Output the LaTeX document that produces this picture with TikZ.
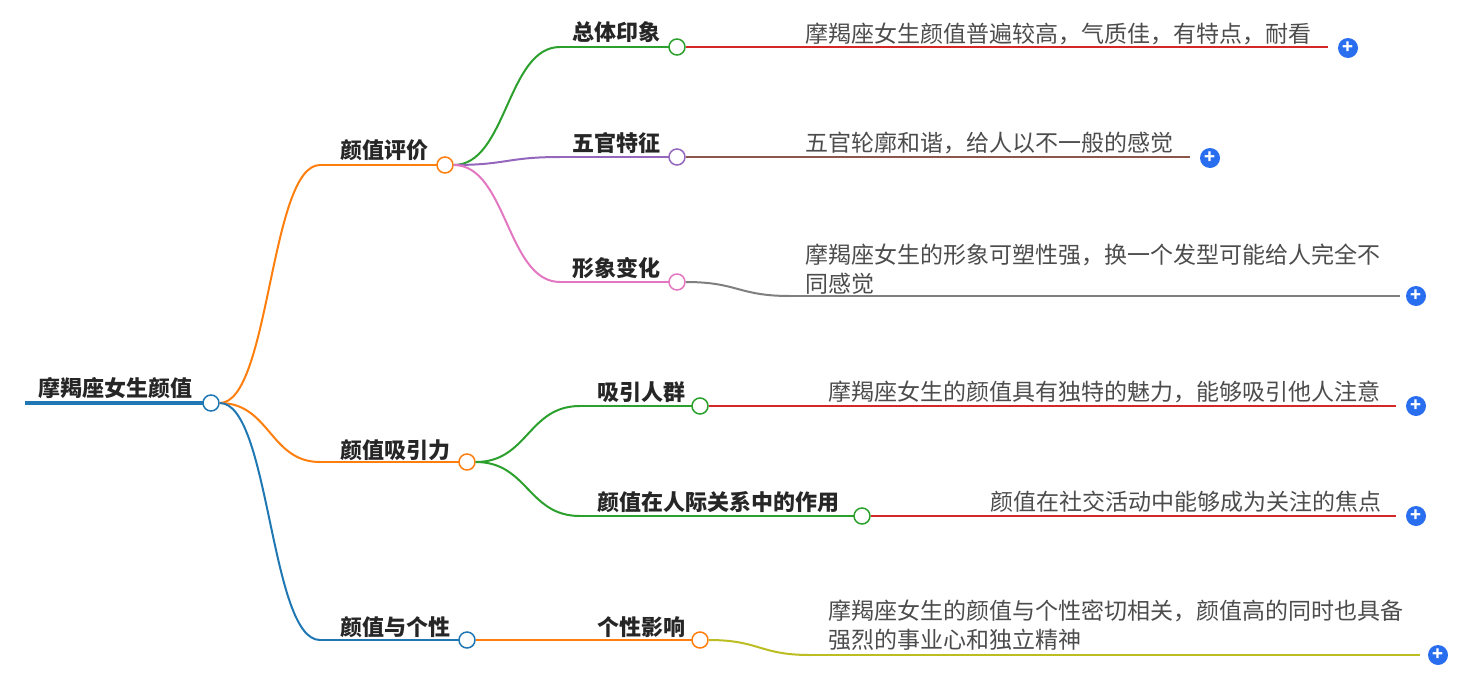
\documentclass[tikz,border=0pt]{standalone}
\usepackage{fontspec}
\setmainfont{Noto Sans CJK SC}
\usetikzlibrary{calc}
\begin{document}
\begin{tikzpicture}[x=1pt,y=-1pt,
  lbl/.style={anchor=west,inner sep=0,font=\fontsize{22}{26}\selectfont\bfseries,text=black!85},
  leaf/.style={anchor=west,inner sep=0,font=\fontsize{23}{29}\selectfont,text=black!70,align=left},
  dot/.style={circle,draw,line width=1.5pt,fill=white,minimum size=16pt,inner sep=0},
  plus/.style={circle,fill=cplus,minimum size=20pt,inner sep=0,text=white,font=\bfseries\fontsize{18}{18}\selectfont},
  ln/.style={line width=2pt}]
\definecolor{cor}{HTML}{FF7F0E}\definecolor{cbl}{HTML}{1F77B4}\definecolor{cgr}{HTML}{2CA02C}
\definecolor{cpu}{HTML}{9467BD}\definecolor{cpi}{HTML}{E377C2}\definecolor{cre}{HTML}{D62728}
\definecolor{cbr}{HTML}{8C564B}\definecolor{cgy}{HTML}{7F7F7F}\definecolor{col}{HTML}{BCBD22}
\definecolor{cplus}{HTML}{2A6EF0}
\useasboundingbox (0,0) rectangle (1480,672);
\def\cv#1#2#3{\draw[ln,#1] let \p1=(#2),\p2=(#3) in (\p1) .. controls ({0.5*\x1+0.5*\x2},\y1) and ({0.5*\x1+0.5*\x2},\y2) .. (\p2);}
% root
\node[lbl] (r) at (38,388) {摩羯座女生颜值};
\draw[cbl,line width=4pt] (25,403) -- (203,403);
\node[dot,draw=cbl] (rc) at (211,403) {};
% level 1
\node[lbl] (a) at (340,150) {颜值评价};
\node[lbl] (b) at (340,450) {颜值吸引力};
\node[lbl] (c) at (340,627) {颜值与个性};
\coordinate (as) at (320,165); \coordinate (bs) at (320,462); \coordinate (cs) at (320,640);
\cv{cor}{rc.east}{as} \cv{cor}{rc.east}{bs} \cv{cbl}{rc.east}{cs}
\draw[ln,cor] (as) -- (437,165); \draw[ln,cor] (bs) -- (459,462); \draw[ln,cbl] (cs) -- (459,640);
\node[dot,draw=cor] (ac) at (445,165) {};
\node[dot,draw=cor] (bc) at (467,462) {};
\node[dot,draw=cbl] (cc) at (467,640) {};
% level 2 under a
\node[lbl] (a1) at (572,32) {总体印象};
\node[lbl] (a2) at (572,143) {五官特征};
\node[lbl] (a3) at (572,268) {形象变化};
\coordinate (a1s) at (560,47); \coordinate (a2s) at (560,157); \coordinate (a3s) at (560,282);
\cv{cgr}{ac.east}{a1s} \cv{cpu}{ac.east}{a2s} \cv{cpi}{ac.east}{a3s}
\draw[ln,cgr] (a1s) -- (669,47); \draw[ln,cpu] (a2s) -- (669,157); \draw[ln,cpi] (a3s) -- (669,282);
\node[dot,draw=cgr] (a1c) at (677,47) {};
\node[dot,draw=cpu] (a2c) at (677,157) {};
\node[dot,draw=cpi] (a3c) at (677,282) {};
% level 2 under b
\node[lbl] (b1) at (597,392) {吸引人群};
\node[lbl] (b2) at (597,502) {颜值在人际关系中的作用};
\coordinate (b1s) at (580,406); \coordinate (b2s) at (580,516);
\cv{cgr}{bc.east}{b1s} \cv{cgr}{bc.east}{b2s}
\draw[ln,cgr] (b1s) -- (692,406); \draw[ln,cgr] (b2s) -- (854,516);
\node[dot,draw=cgr] (b1c) at (700,406) {};
\node[dot,draw=cgr] (b2c) at (862,516) {};
% level 2 under c
\node[lbl] (c1) at (597,627) {个性影响};
\draw[ln,cor] (cc.east) -- (692,640);
\node[dot,draw=cor] (c1c) at (700,640) {};
% leaves
\node[leaf] (l1) at (805,34) {摩羯座女生颜值普遍较高，气质佳，有特点，耐看};
\coordinate (l1e) at (1328,47);
\draw[ln,cre] (a1c.east) -- (l1e);
\node[plus] (p1) at (1348,48) {+};
\node[leaf] (l2) at (805,143) {五官轮廓和谐，给人以不一般的感觉};
\coordinate (l2e) at (1190,157);
\draw[ln,cbr] (a2c.east) -- (l2e);
\node[plus] (p2) at (1210,158) {+};
\node[leaf] (l3) at (805,269) {摩羯座女生的形象可塑性强，换一个发型可能给人完全不\\同感觉};
\coordinate (l3m) at (790,296); \coordinate (l3e) at (1400,296);
\cv{cgy}{a3c.east}{l3m} \draw[ln,cgy] (l3m) -- (l3e);
\node[plus] (p3) at (1416,296) {+};
\node[leaf] (l4) at (828,392) {摩羯座女生的颜值具有独特的魅力，能够吸引他人注意};
\coordinate (l4e) at (1396,406);
\draw[ln,cre] (b1c.east) -- (l4e);
\node[plus] (p4) at (1416,406) {+};
\node[leaf] (l5) at (990,502) {颜值在社交活动中能够成为关注的焦点};
\coordinate (l5e) at (1396,516);
\draw[ln,cre] (b2c.east) -- (l5e);
\node[plus] (p5) at (1416,516) {+};
\node[leaf] (l6) at (828,625) {摩羯座女生的颜值与个性密切相关，颜值高的同时也具备\\强烈的事业心和独立精神};
\coordinate (l6m) at (810,655); \coordinate (l6e) at (1420,655);
\cv{col}{c1c.east}{l6m} \draw[ln,col] (l6m) -- (l6e);
\node[plus] (p6) at (1438,655) {+};
\end{tikzpicture}
\end{document}
